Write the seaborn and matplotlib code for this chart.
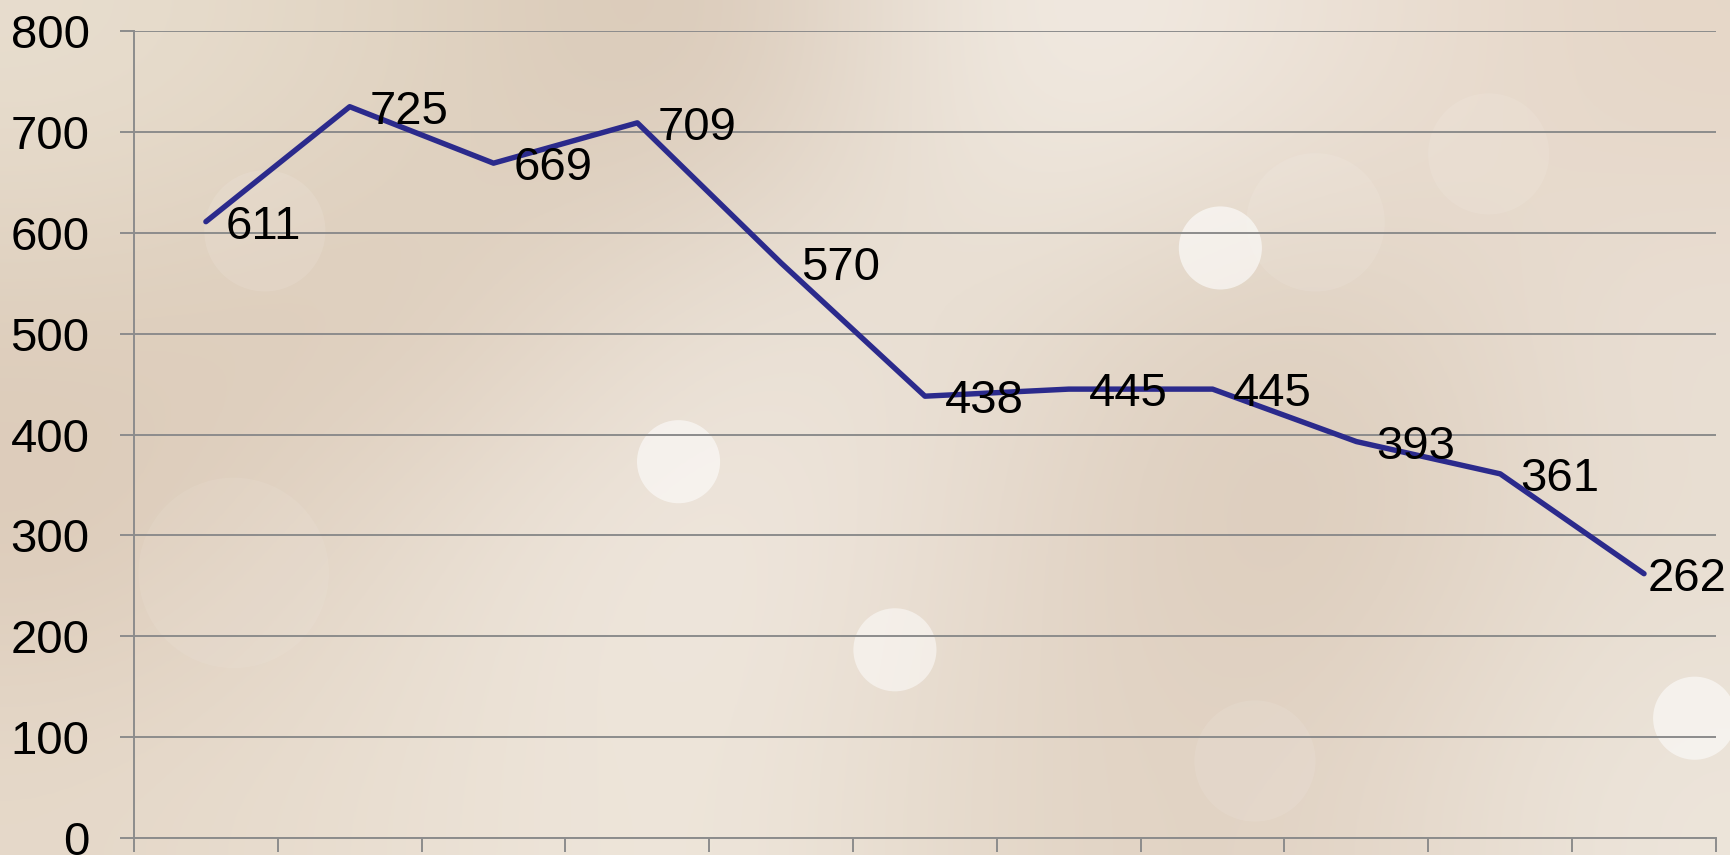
import numpy as np
import pandas as pd
import matplotlib.pyplot as plt
import seaborn as sns
from matplotlib.patches import Ellipse

# chart data
periods = list(range(1, 12))
values = [611, 725, 669, 709, 570, 438, 445, 445, 393, 361, 262]
y_ticks = [0, 100, 200, 300, 400, 500, 600, 700, 800]

df = pd.DataFrame({"period": periods, "value": values})

sns.set_style("white")
plt.rcParams['font.family'] = ['Liberation Sans', 'DejaVu Sans']

W, H = 17.31, 8.55
fig = plt.figure(figsize=(W, H), dpi=100)

# soft beige background (photo-like gradient)
bg = fig.add_axes([0, 0, 1, 1], zorder=-10)
grid_cols = np.array([
    [[0.91, 0.87, 0.81], [0.88, 0.83, 0.76], [0.84, 0.77, 0.70], [0.96, 0.94, 0.91], [0.93, 0.89, 0.85], [0.90, 0.84, 0.78]],
    [[0.87, 0.81, 0.74], [0.86, 0.79, 0.72], [0.93, 0.90, 0.86], [0.91, 0.87, 0.82], [0.86, 0.80, 0.73], [0.92, 0.88, 0.84]],
    [[0.86, 0.79, 0.72], [0.91, 0.87, 0.82], [0.95, 0.92, 0.89], [0.90, 0.85, 0.80], [0.85, 0.78, 0.71], [0.91, 0.87, 0.82]],
    [[0.90, 0.85, 0.79], [0.92, 0.88, 0.83], [0.94, 0.91, 0.87], [0.89, 0.84, 0.78], [0.88, 0.82, 0.76], [0.93, 0.90, 0.86]],
])
bg.imshow(grid_cols, aspect='auto', interpolation='bicubic', extent=[0, 1, 0, 1])
for cx, cy, r, a in [(0.705, 0.71, 0.024, 0.6), (0.392, 0.46, 0.024, 0.55),
                     (0.517, 0.24, 0.024, 0.5), (0.979, 0.16, 0.024, 0.55),
                     (0.153, 0.73, 0.035, 0.1), (0.135, 0.33, 0.055, 0.07),
                     (0.76, 0.74, 0.04, 0.09), (0.725, 0.11, 0.035, 0.09),
                     (0.86, 0.82, 0.035, 0.09)]:
    bg.add_patch(Ellipse((cx, cy), 2 * r, 2 * r * W / H, transform=bg.transAxes,
                         facecolor='white', edgecolor='none', alpha=a))
bg.set_xlim(0, 1)
bg.set_ylim(0, 1)
bg.axis('off')

ax = fig.add_axes([0.0774, 0.0199, 0.9139, 0.9438])
ax.set_facecolor('none')

sns.lineplot(data=df, x="period", y="value", ax=ax, color='#2b2a8c',
             linewidth=3.9, zorder=3)

for i, (p, v) in enumerate(zip(periods, values)):
    dx = 4 if i == len(periods) - 1 else 20
    ax.annotate(str(v), (p, v), xytext=(dx, -5), textcoords='offset pixels',
                ha='left', va='center', fontsize=34, color='black', zorder=4)

ax.set_xlim(periods[0] - 0.5, periods[-1] + 0.5)
ax.set_ylim(y_ticks[0], y_ticks[-1])
ax.set_yticks(y_ticks)
ax.set_yticklabels([str(t) for t in y_ticks])
ax.set_xticks([p - 0.5 for p in periods] + [periods[-1] + 0.5])
ax.set_xticklabels([])
ax.set_xlabel("")
ax.set_ylabel("")

ax.yaxis.grid(True, color='#8c8c8c', linewidth=1.4)
ax.xaxis.grid(False)
ax.tick_params(axis='y', length=10, width=1.4, color='#8c8c8c', pad=22,
               labelsize=34, labelcolor='black', left=True)
ax.tick_params(axis='x', length=10, width=1.4, color='#8c8c8c', bottom=True)
for side in ['top', 'right']:
    ax.spines[side].set_visible(False)
for side in ['left', 'bottom']:
    ax.spines[side].set_color('#8c8c8c')
    ax.spines[side].set_linewidth(1.4)
ax.set_axisbelow(True)

fig.savefig("out.png", dpi=100)
